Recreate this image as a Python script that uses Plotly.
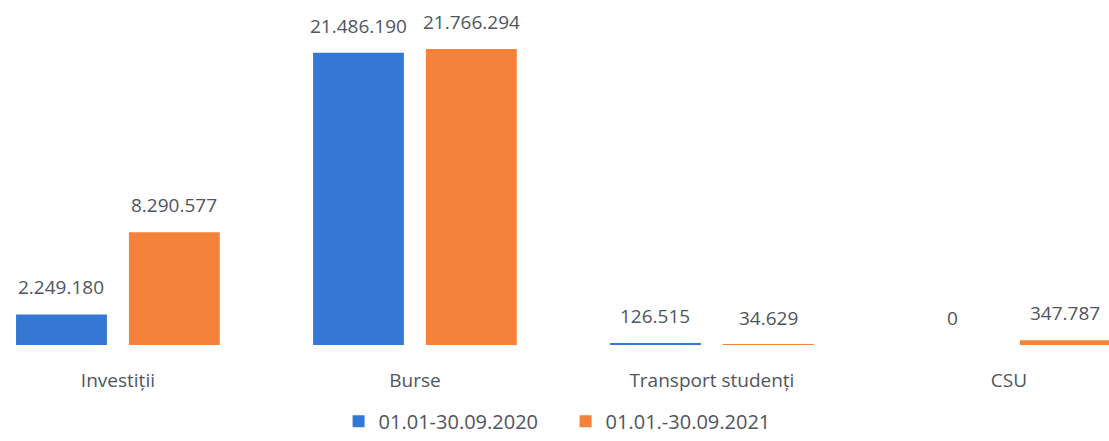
import plotly.graph_objects as go

categories = ["Investiții", "Burse", "Transport studenți", "CSU"]
series_2020_name = "01.01-30.09.2020"
series_2021_name = "01.01.-30.09.2021"
values_2020 = [2249180, 21486190, 126515, 0]
values_2021 = [8290577, 21766294, 34629, 347787]


def fmt(v):
    return f"{v:,}".replace(",", ".")


BLUE = "#3478D4"
ORANGE = "#F4823A"
TXT = "#4F5560"
FONT = "Open Sans"
FS = 19
BARGAP = 0.24

fig = go.Figure()
fig.add_trace(go.Bar(
    x=categories, y=values_2020, name=series_2020_name,
    marker=dict(color=BLUE, line=dict(width=0)),
))
fig.add_trace(go.Bar(
    x=categories, y=values_2021, name=series_2021_name,
    marker=dict(color=ORANGE, line=dict(width=0)),
))

# value labels above each bar (positioned in data coordinates)
half = (1 - BARGAP) / 4
for sign, vals in ((-1, values_2020), (1, values_2021)):
    for i, v in enumerate(vals):
        fig.add_annotation(
            x=i + sign * half, y=v, xref="x", yref="y",
            text=fmt(v), showarrow=False, yanchor="bottom", yshift=12,
            font=dict(size=FS, color=TXT, family=FONT),
        )

fig.update_layout(
    width=1109, height=441,
    margin=dict(l=0, r=0, t=0, b=96),
    paper_bgcolor="white", plot_bgcolor="white",
    barmode="group", bargap=BARGAP, bargroupgap=0.195,
    font=dict(family=FONT, size=FS, color=TXT),
    showlegend=True,
    legend=dict(orientation="h", x=0.51, xanchor="center", yref="container",
                y=0.045, yanchor="middle",
                font=dict(size=20, color=TXT, family=FONT), itemwidth=30,
                entrywidth=182, traceorder="normal"),
)
fig.update_xaxes(range=[-0.397, 3.337], showline=False, showgrid=False, zeroline=False,
                 ticks="", ticklabelstandoff=22, tickfont=dict(size=FS, color=TXT, family=FONT))
fig.update_yaxes(range=[0, 25.37e6], visible=False, showgrid=False, zeroline=False)

fig.write_html("out.html", config={"displayModeBar": False},
               post_script="document.body.style.margin='0';")
